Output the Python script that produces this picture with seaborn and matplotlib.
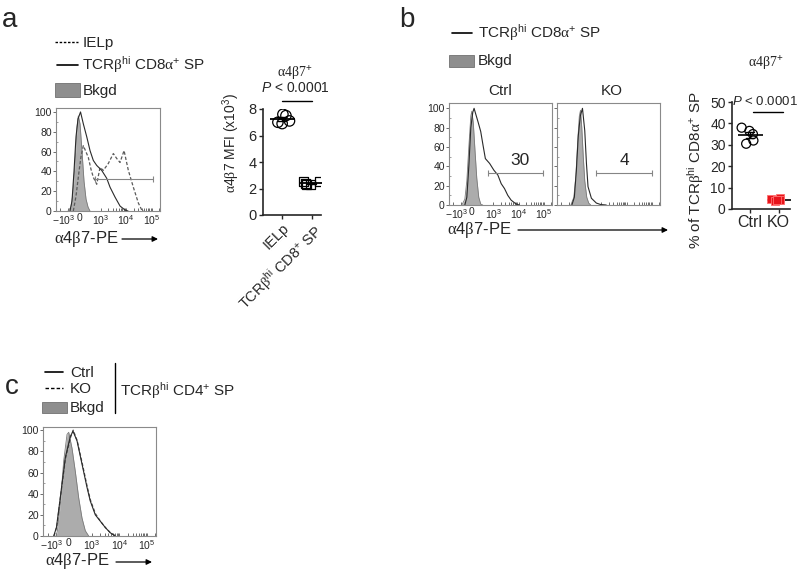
import matplotlib.pyplot as plt
import matplotlib.transforms as mtransforms
import numpy as np
import pandas as pd
import seaborn as sns
from matplotlib.lines import Line2D
from matplotlib.patches import Rectangle, FancyArrowPatch
from matplotlib.ticker import FixedLocator, MultipleLocator

# ---------------- data ----------------
# panel a, histograms: a4b7-PE intensity vs % of max
a_bkgd_x = [-1015, -741, -556, -370, -185, -65, 46, 138, 230, 323, 415, 507]
a_bkgd_y = [0, 4, 18, 48, 85, 96, 88, 60, 30, 12, 4, 0]
a_sp_x = [-833, -648, -463, -278, -93, 69, 198, 355, 507, 659, 816, 1094,
          1718, 2320, 3640, 5710, 8970, 11750]
a_sp_y = [0, 10, 40, 75, 93, 100, 88, 75, 61, 51, 46, 41, 33, 24, 14, 5, 1, 0]
a_ielp_x = [-528, -278, 0, 92, 198, 276, 429, 553, 659, 816, 968, 1265, 1986,
            3120, 4240, 5710, 8200, 12080, 18970, 29850, 40550, 49900]
a_ielp_y = [0, 15, 40, 55, 66, 62, 54, 42, 34, 27, 44, 41, 48, 58, 53, 49, 61,
            41, 24, 8, 1, 0]
a_gate = [737, 115000]
a_gate_y = 32

# panel a, MFI (x10^3)
mfi_groups = ['IELp', 'SP']
ielp_mfi = [7.6, 7.5, 7.0, 6.9, 7.1]
sp_mfi = [2.5, 2.4, 2.3, 2.5, 2.3]

# panel b, histograms
b_ctrl_bkgd_x = [-926, -648, -463, -278, -93, 0, 69, 138, 230, 323, 415, 507]
b_ctrl_bkgd_y = [0, 6, 25, 60, 92, 97, 85, 60, 28, 8, 1, 0]
b_ctrl_x = [-648, -463, -278, -93, 46, 106, 184, 290, 415, 521, 631, 829, 1055,
            1515, 2060, 2775, 3740, 5080, 7980, 10770]
b_ctrl_y = [0, 8, 40, 80, 96, 100, 94, 86, 76, 62, 48, 43, 36, 31, 22, 17, 10,
            5, 1, 0]
b_ko_bkgd_x = [-833, -556, -370, -185, -46, 32, 92, 161, 230, 323, 415, 507]
b_ko_bkgd_y = [0, 8, 30, 68, 92, 98, 80, 50, 25, 8, 2, 0]
b_ko_x = [-741, -509, -324, -139, 23, 124, 230, 309, 382, 539, 770, 968, 1570]
b_ko_y = [0, 8, 35, 72, 92, 100, 77, 43, 19, 7, 2, 0.5, 0]
b_ctrl_gate = [751, 96000]
b_ko_gate = [737, 105000]
b_gate_y = 33
b_freq = ['30', '4']

# panel b, % a4b7+
pct_groups = ['Ctrl', 'KO']
ctrl_pct = [38, 36.5, 35, 30.5, 32]
ko_pct = [5, 4.5, 4, 3.8, 4.2]

# panel c, histograms
c_bkgd_x = [-1020, -897, -658, -368, -85, 30, 169, 309, 453, 593, 733, 877]
c_bkgd_y = [0, 5, 30, 71, 96, 98, 83, 61, 36, 17, 5, 0]
c_ctrl_x = [-1233, -983, -658, -231, 97, 212, 381, 593, 805, 945, 1360, 2060,
            3125, 4730, 7180]
c_ctrl_y = [0, 8, 36, 74, 94, 99, 90, 68, 46, 33, 20, 14, 8, 3, 0]
c_ko_x = [-1200, -950, -640, -220, 105, 220, 390, 600, 810, 950, 1380, 2080,
          3150, 4800, 7300]
c_ko_y = [0, 9, 37, 73, 93, 100, 90, 69, 47, 34, 21, 14, 8, 3, 0]

hist_xticks = [-1000, 0, 1000, 10000, 100000]
hist_xticklabels = [r'$-10^{3}$', '0', r'$10^{3}$', r'$10^{4}$', r'$10^{5}$']

# ---------------- style ----------------
sns.set_style('ticks')
plt.rcParams['font.family'] = ['Liberation Sans', 'DejaVu Sans']
plt.rcParams['mathtext.fontset'] = 'custom'
plt.rcParams['mathtext.rm'] = 'Liberation Sans'
plt.rcParams['mathtext.it'] = 'Liberation Sans:italic'
plt.rcParams['mathtext.bf'] = 'Liberation Sans:bold'
plt.rcParams['mathtext.sf'] = 'Liberation Serif'

A4B7 = r'$\mathsf{\alpha}$4$\mathsf{\beta}$7'
TCR8 = r'TCR$\mathsf{\beta}^{\mathrm{hi}}$ CD8$\mathsf{\alpha}^{+}$ SP'
TCR4 = r'TCR$\mathsf{\beta}^{\mathrm{hi}}$ CD4$^{+}$ SP'
PVAL = r'$P$ < 0.0001'

LIN, L, NL = 1000.0, 0.85, 0.425  # biexponential-like axis


def fwd(x):
    x = np.asarray(x, float)
    a = np.maximum(np.abs(x), 1e-9)
    lg = np.log10(a / LIN)
    pos = np.where(x >= LIN, L + lg, L * x / LIN)
    neg = np.where(x <= -LIN, -(NL + lg), NL * x / LIN)
    return np.where(x >= 0, pos, neg)


def inv(t):
    t = np.clip(np.asarray(t, float), -30, 30)
    pos = np.where(t >= L, LIN * 10 ** (t - L), t / L * LIN)
    neg = np.where(t <= -NL, -LIN * 10 ** (-t - NL), t / NL * LIN)
    return np.where(t >= 0, pos, neg)


W, H = 800, 572
fig = plt.figure(figsize=(8, 5.72), dpi=100)


def box(l, t, r, b):
    return fig.add_axes([l / W, 1 - b / H, (r - l) / W, (b - t) / H])


def text(x, y, s, **kw):
    kw.setdefault('va', 'baseline')
    fig.text(x / W, 1 - y / H, s, **kw)


def fline(xs, ys, **kw):
    fig.add_artist(Line2D([v / W for v in xs], [1 - v / H for v in ys],
                          transform=fig.transFigure, **kw))


def arrow(x0, x1, y):
    fig.add_artist(FancyArrowPatch((x0 / W, 1 - y / H), (x1 / W, 1 - y / H),
                                   transform=fig.transFigure, arrowstyle='-|>',
                                   mutation_scale=8, lw=0.9, color='k',
                                   shrinkA=0, shrinkB=0))


def swatch(l, t, r, b):
    fig.add_artist(Rectangle((l / W, 1 - b / H), (r - l) / W, (b - t) / H,
                             transform=fig.transFigure, fc='#8e8e8e',
                             ec='#707070', lw=0.6))


def bkgd(ax, x, y):
    ax.fill_between(x, y, color='#acacac', lw=0)
    sns.lineplot(x=x, y=y, ax=ax, color='#7a7a7a', lw=0.6)


def flow_axis(ax, ymax, show_y=True, show_x=True):
    ax.set_xscale('function', functions=(fwd, inv))
    ax.set_xlim(-3000, 210000)
    ax.set_ylim(0, ymax)
    ax.set_xticks(hist_xticks)
    ax.set_xticklabels(hist_xticklabels if show_x else [])
    ax.xaxis.set_minor_locator(FixedLocator(
        [-2000] + [m * 10 ** k for k in (3, 4) for m in range(2, 10)] + [200000]))
    ax.set_yticks(range(0, 101, 20))
    if not show_y:
        ax.set_yticklabels([])
    ax.yaxis.set_minor_locator(MultipleLocator(10))
    ax.set_xlabel('')
    ax.set_ylabel('')
    ax.tick_params(axis='x', which='both', direction='in', length=2.5,
                   width=0.6, color='#555555', labelsize=7.5, pad=1.5)
    ax.tick_params(axis='y', which='major', direction='out', length=2,
                   width=0.6, color='#555555', labelsize=7.5, pad=1)
    ax.tick_params(axis='y', which='minor', direction='in', length=1.5,
                   width=0.5, color='#777777')
    for s in ax.spines.values():
        s.set_color('#8a8a8a')
        s.set_linewidth(0.8)
    if show_x:
        # -10^3 label sits tight against the 0 label, as in FlowJo output
        lab = ax.xaxis.get_major_ticks()[0].label1
        lab.set_transform(lab.get_transform() + mtransforms.ScaledTranslation(
            -3 / 72, 0, fig.dpi_scale_trans))


def gate(ax, xs, y):
    ax.plot(xs, [y, y], color='#858585', lw=0.8, marker='|', ms=5, mew=0.8)


def dots(ax, df, x, y, order, marker, size, face, edge, lw, jitter):
    n = len(ax.collections)
    sns.stripplot(data=df, x=x, y=y, order=order, marker=marker, size=size,
                  color=edge, edgecolor=edge, linewidth=lw, jitter=jitter, ax=ax)
    for c in ax.collections[n:]:
        c.set_facecolor(face)
        c.set_edgecolor(edge)


# ---------------- panel a ----------------
axA = box(56, 108, 160, 211)
bkgd(axA, a_bkgd_x, a_bkgd_y)
sns.lineplot(x=a_ielp_x, y=a_ielp_y, ax=axA, color='#5a5a5a', lw=0.9,
             linestyle=(0, (2.6, 1.6)))
sns.lineplot(x=a_sp_x, y=a_sp_y, ax=axA, color='#2a2a2a', lw=0.8)
gate(axA, a_gate, a_gate_y)
flow_axis(axA, 104)

np.random.seed(3)
dfa = pd.DataFrame({'cell': ['IELp'] * len(ielp_mfi) + ['SP'] * len(sp_mfi),
                    'mfi': ielp_mfi + sp_mfi})
axAd = box(263, 109, 321, 215)
dots(axAd, dfa[dfa.cell == 'IELp'], 'cell', 'mfi', mfi_groups, 'o', 7.5,
     'none', 'k', 0.9, 0.32)
dots(axAd, dfa[dfa.cell == 'SP'], 'cell', 'mfi', mfi_groups, 's', 6.5,
     'none', 'k', 0.9, 0.3)
sns.pointplot(data=dfa, x='cell', y='mfi', order=mfi_groups, errorbar='se',
              capsize=0.3, color='k', markers='_', markersize=18,
              markeredgewidth=1.3, linestyles='none', err_kws={'linewidth': 1.0},
              ax=axAd)
axAd.set_xlim(-0.63, 1.3)
axAd.set_ylim(0, 8)
axAd.set_yticks([0, 2, 4, 6, 8])
axAd.set_xticks([0, 1])
axAd.set_xticklabels(['IELp', r'TCR$\mathsf{\beta}^{\mathrm{hi}}$ CD8$^{+}$ SP'],
                     rotation=45, ha='right', rotation_mode='anchor', fontsize=11)
axAd.set_xlabel('')
axAd.set_ylabel(A4B7 + ' MFI (x10$^{3}$)', fontsize=10)
axAd.yaxis.set_label_coords(-0.36, 0.675)
axAd.tick_params(length=3, width=1, labelsize=10.5, pad=1.5)
sns.despine(ax=axAd)
for s in ('left', 'bottom'):
    axAd.spines[s].set_linewidth(1.2)

# ---------------- panel b ----------------
axB1 = box(449, 103.5, 552, 205)
bkgd(axB1, b_ctrl_bkgd_x, b_ctrl_bkgd_y)
sns.lineplot(x=b_ctrl_x, y=b_ctrl_y, ax=axB1, color='#2a2a2a', lw=0.8)
gate(axB1, b_ctrl_gate, b_gate_y)
flow_axis(axB1, 105)
axB1.text(11000, 41, b_freq[0], ha='center', va='baseline', fontsize=12.5)

axB2 = box(557, 103.5, 660, 205)
bkgd(axB2, b_ko_bkgd_x, b_ko_bkgd_y)
sns.lineplot(x=b_ko_x, y=b_ko_y, ax=axB2, color='#2a2a2a', lw=0.8)
gate(axB2, b_ko_gate, b_gate_y)
flow_axis(axB2, 105, show_y=False, show_x=False)
axB2.text(8200, 41, b_freq[1], ha='center', va='baseline', fontsize=12.5)

dfb = pd.DataFrame({'grp': ['Ctrl'] * len(ctrl_pct) + ['KO'] * len(ko_pct),
                    'pct': ctrl_pct + ko_pct})
axBd = box(732, 102, 790, 209)
dots(axBd, dfb[dfb.grp == 'Ctrl'], 'grp', 'pct', pct_groups, 'o', 6.5,
     'none', 'k', 0.9, 0.32)
dots(axBd, dfb[dfb.grp == 'KO'], 'grp', 'pct', pct_groups, 's', 6,
     '#e8141b', '#ff6f6f', 0.6, 0.28)
sns.pointplot(data=dfb, x='grp', y='pct', order=pct_groups, errorbar='se',
              capsize=0.3, color='k', markers='_', markersize=18,
              markeredgewidth=1.2, linestyles='none', err_kws={'linewidth': 1.0},
              ax=axBd)
axBd.set_xlim(-0.64, 1.4)
axBd.set_ylim(0, 50)
axBd.set_yticks(range(0, 51, 10))
axBd.set_xlabel('')
axBd.set_ylabel('% of ' + TCR8, fontsize=11)
axBd.yaxis.set_label_coords(-0.45, 0.36)
axBd.tick_params(length=3, width=1, labelsize=10, pad=1.5)
axBd.tick_params(axis='x', labelsize=11.5)
sns.despine(ax=axBd)
for s in ('left', 'bottom'):
    axBd.spines[s].set_linewidth(1.2)

# ---------------- panel c ----------------
axC = box(43, 427, 156, 536)
bkgd(axC, c_bkgd_x, c_bkgd_y)
sns.lineplot(x=c_ko_x, y=c_ko_y, ax=axC, color='#555555', lw=0.9,
             linestyle=(0, (2.6, 1.6)))
sns.lineplot(x=c_ctrl_x, y=c_ctrl_y, ax=axC, color='#2a2a2a', lw=0.8)
flow_axis(axC, 103)

# ---------------- annotations ----------------
text(10, 27, 'a', fontsize=20, ha='center')
text(407, 27, 'b', fontsize=20, ha='center')
text(12, 394, 'c', fontsize=20, ha='center')

# legend a
fline([55, 78], [41.5, 41.5], color='k', lw=1.0, linestyle=(0, (1.8, 1.2)))
text(83, 46.5, 'IELp', fontsize=11)
fline([57, 78], [65, 65], color='k', lw=1.2)
text(82, 70, TCR8, fontsize=11)
swatch(55, 83, 80, 97)
text(83, 94.5, 'Bkgd', fontsize=11)

# legend b
fline([452, 472], [33, 33], color='k', lw=1.2)
text(478, 38, TCR8, fontsize=11)
swatch(449, 55, 474, 67)
text(478, 65.5, 'Bkgd', fontsize=11)

# legend c
fline([45, 63], [372, 372], color='k', lw=1.2)
text(70, 377, 'Ctrl', fontsize=11)
fline([45, 63], [388, 388], color='k', lw=1.0, linestyle=(0, (2.5, 1.5)))
text(70, 393, 'KO', fontsize=11)
swatch(42, 402, 67, 413)
text(70, 412, 'Bkgd', fontsize=11)
fline([115, 115], [363, 413], color='k', lw=1.0)
text(120, 396, TCR4, fontsize=11)

# axis titles of flow plots
text(54, 243, A4B7 + '-PE', fontsize=12)
arrow(122, 158, 239)
text(447, 233.5, A4B7 + '-PE', fontsize=12)
arrow(518, 668, 230)
text(45, 565, A4B7 + '-PE', fontsize=12)
arrow(116, 152, 562)
text(500, 95, 'Ctrl', fontsize=11, ha='center')
text(612, 95, 'KO', fontsize=11, ha='center')

# dot-plot headers
text(295, 78, A4B7 + r'$^{+}$', fontsize=10, ha='center', family='Liberation Serif')
text(295, 92.5, PVAL, fontsize=10, ha='center')
fline([282, 312], [100.7, 100.7], color='k', lw=1.0)
text(766, 68, A4B7 + r'$^{+}$', fontsize=10, ha='center', family='Liberation Serif')
text(765, 105, PVAL, fontsize=9.5, ha='center')
fline([753, 783], [112, 112], color='k', lw=1.0)

fig.savefig('out.png', dpi=100)
